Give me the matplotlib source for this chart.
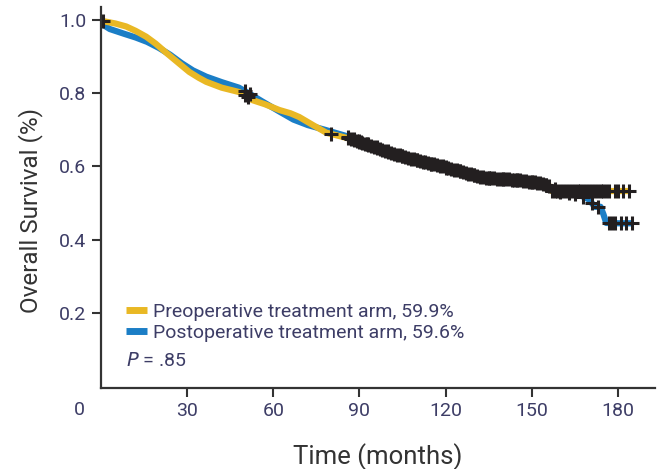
import numpy as np
import matplotlib
matplotlib.use('Agg')
import matplotlib.pyplot as plt
from matplotlib.lines import Line2D

plt.rcParams['font.family'] = ['Roboto', 'DejaVu Sans']

# Kaplan-Meier curves (months, survival)
pre_t = [0, 1, 5, 8.7, 12, 15.7, 19, 22.7, 27, 30.7, 34, 36.6, 42, 48.1, 52.7, 57,
         62.1, 66, 69, 74, 78.5, 85.5, 90, 97, 104, 110, 116, 121, 127, 133, 139,
         145, 150, 153, 156, 157, 160, 168, 176, 184]
pre_s = [1.0, 0.996, 0.99, 0.982, 0.97, 0.954, 0.935, 0.91, 0.882, 0.858, 0.842, 0.831,
         0.815, 0.803, 0.781, 0.77, 0.754, 0.745, 0.735, 0.712, 0.692, 0.678, 0.668,
         0.647, 0.63, 0.617, 0.606, 0.596, 0.583, 0.57, 0.566, 0.563, 0.558, 0.555,
         0.548, 0.533, 0.532, 0.532, 0.533, 0.533]
post_t = [0, 1, 3, 8, 12, 16, 20, 24, 28, 32, 36.6, 42, 48, 52, 56, 62.1, 67, 72,
          78, 85, 90, 97, 104, 110, 116, 121, 127, 133, 139, 145, 150, 153, 156,
          160, 166, 170, 172, 174, 175, 176, 180, 185]
post_s = [1.0, 0.985, 0.975, 0.962, 0.952, 0.94, 0.924, 0.905, 0.882, 0.862, 0.845,
          0.83, 0.815, 0.797, 0.778, 0.75, 0.728, 0.713, 0.7, 0.684, 0.67, 0.65, 0.63,
          0.617, 0.605, 0.595, 0.583, 0.57, 0.566, 0.562, 0.557, 0.554, 0.546, 0.53,
          0.525, 0.51, 0.49, 0.49, 0.47, 0.446, 0.445, 0.445]

# censoring times (+ marks)
pre_cens = [0.5, 50, 51, 80, 86, 87, 88, 89, 90, 90.5, 91, 92, 92.5, 93, 94, 95, 96,
            97, 98, 99, 100, 101, 102, 103, 104, 105, 106, 107, 108, 109, 110, 111,
            112, 113, 114, 115, 116, 117, 118, 119, 120, 121, 122, 123, 124, 125,
            126, 127, 128, 129, 130, 131, 132, 133, 134, 135, 136, 137, 138, 139,
            140, 141, 142, 143, 144, 145, 146, 147, 148, 149, 150, 151, 152, 153,
            154, 155, 156, 157, 158, 159, 160, 161, 162, 163, 164, 165, 166, 167,
            168, 169, 170, 171, 172, 173, 174, 175, 176, 177, 179, 180, 182, 184]
post_cens = [50, 52, 86, 88, 90, 93, 96, 100, 105, 110, 115, 120, 125, 130, 135, 140,
             145, 150, 155, 158, 160, 163, 165, 168, 171, 173, 177, 178, 179, 181,
             183, 185]

labels = ['Preoperative treatment arm, 59.9%', 'Postoperative treatment arm, 59.6%']
colors = ['#E9B824', '#1B7EC6']
xticks = [30, 60, 90, 120, 150, 180]
yticks = [0.2, 0.4, 0.6, 0.8, 1.0]

fig = plt.figure(figsize=(6.57, 4.69), dpi=100)
ax = fig.add_axes([0.154, 0.173, 0.843, 0.812])

ax.plot(post_t, post_s, color=colors[1], lw=4.5, solid_capstyle='butt')
ax.plot(pre_t, pre_s, color=colors[0], lw=4.5, solid_capstyle='butt')

for t_arr, s_arr, cens in [(post_t, post_s, post_cens), (pre_t, pre_s, pre_cens)]:
    cy = np.interp(cens, t_arr, s_arr)
    ax.plot(cens, cy, ls='none', marker='+', color='#231f20', ms=10, mew=2.2)

tick_col = '#3d3d66'
ax.set_xlim(0, 193)
ax.set_ylim(-0.004, 1.035)
ax.set_xticks(xticks)
ax.set_yticks(yticks)
ax.set_yticklabels(['%.1f' % v for v in yticks])
ax.tick_params(length=6.5, width=1.5, colors='#333333', labelcolor=tick_col,
               labelsize=14, pad=4)
ax.text(-7.5, -0.064, '0', ha='center', va='center', fontsize=14, color=tick_col,
        clip_on=False)
for side in ['top', 'right']:
    ax.spines[side].set_visible(False)
for side in ['left', 'bottom']:
    ax.spines[side].set_linewidth(1.6)
    ax.spines[side].set_color('#333333')

ax.set_xlabel('Time (months)', fontsize=18.5, color='#333333', labelpad=16)
ax.set_ylabel('Overall Survival (%)', fontsize=17.5, color='#333333', labelpad=12,
              y=0.465)

handles = [Line2D([], [], color=c, lw=5, solid_capstyle='butt') for c in colors]
ax.legend(handles, labels, loc='center left', bbox_to_anchor=(0.045, 0.172),
          frameon=False, fontsize=14, handlelength=1.05, handletextpad=0.33,
          labelspacing=0.12, borderaxespad=0, borderpad=0, labelcolor=tick_col)
ax.text(0.045, 0.07, r'$P$ = .85', transform=ax.transAxes, fontsize=14,
        color=tick_col, va='center')

fig.savefig('out.png', dpi=100)
